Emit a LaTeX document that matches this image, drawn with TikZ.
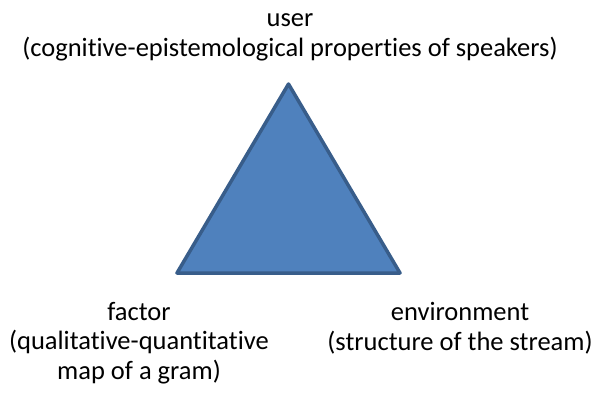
\documentclass[tikz,border=0pt]{standalone}
\usepackage{fontspec}
\setmainfont{Carlito}[Ligatures=NoCommon]
\definecolor{triFill}{HTML}{4F81BD}
\definecolor{triLine}{HTML}{385D8A}
\tikzset{
  label/.style={align=center, inner sep=0pt, anchor=base, font=\fontsize{26.5}{29.5}\selectfont, text=black},
}
\begin{document}
\begin{tikzpicture}[x=1pt,y=-1pt]
    \useasboundingbox (0,0) rectangle (596,392);
    % triangle
    \coordinate (top) at (288.5,84);
    \coordinate (left) at (177,273);
    \coordinate (right) at (400,273);
    \filldraw[fill=triFill, draw=triLine, line width=3.5pt, line join=round] (top) -- (left) -- (right) -- cycle;
    % labels (anchored at the baseline of the last line)
    \node[label] (user) at (290,56) {user\\(cognitive-epistemological properties of speakers)};
    \node[label] (factor) at (139,379) {factor\\(qualitative-quantitative\\map of a gram)};
    \node[label] (environment) at (460,350) {environment\\(structure of the stream)};
\end{tikzpicture}
\end{document}
